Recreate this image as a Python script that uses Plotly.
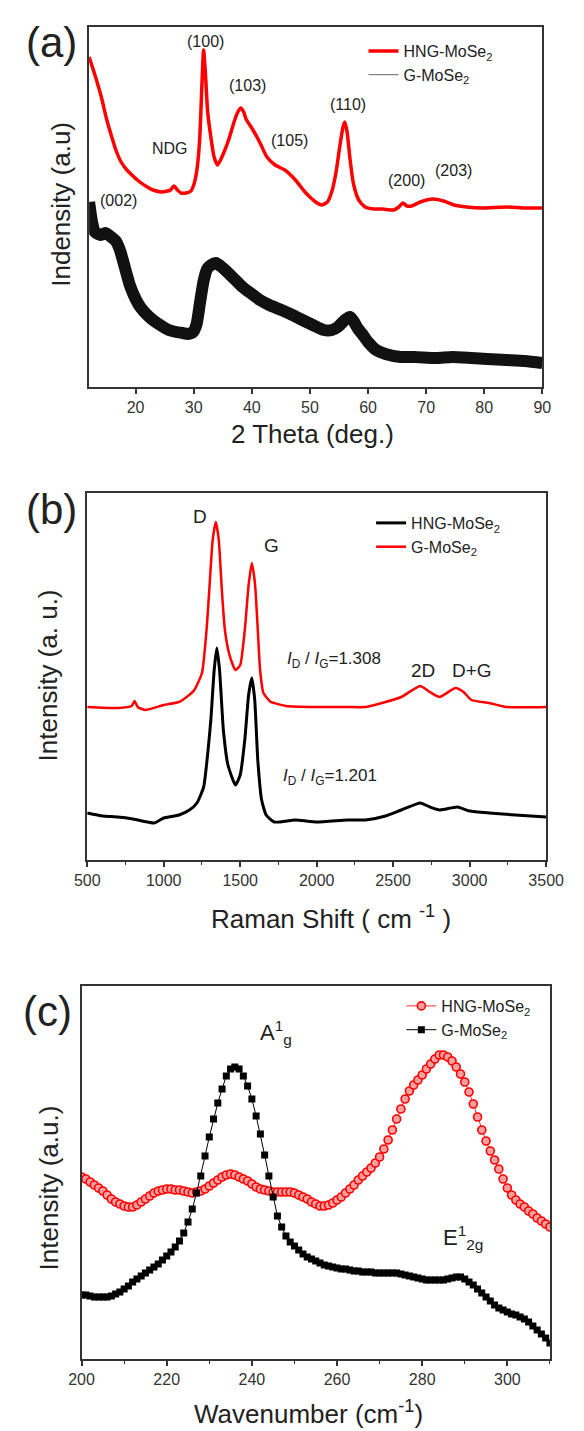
import plotly.graph_objects as go

# ---------------- Panel (a) XRD ----------------
xrd_hng_theta = [12, 13, 14.1, 15, 16, 16.6, 17.5, 18.5, 19.0, 20.5, 22, 23, 24.4, 25.5, 26.0, 26.6,
                 27.2, 27.8, 28.7, 29.5, 30.0, 30.5, 31.0, 31.4, 31.7, 32.0, 32.4, 32.9, 33.5, 34.1,
                 35.0, 36.0, 37.0, 37.6, 38.1, 38.6, 39.0, 40.2, 41.5, 42.6, 44.0, 45.7, 47.5, 49.0,
                 50.0, 51.0, 52.0, 53.0, 53.8, 54.5, 55.2, 55.7, 56.0, 56.4, 56.9, 57.5, 58.4, 59.5,
                 61.0, 62.5, 64.4, 65.3, 66.0, 66.7, 67.5, 69.0, 71.1, 73.0, 74.8, 77.0, 79.6, 83.8,
                 87.0, 90.0]
xrd_hng_int = [330, 312, 290, 268, 248, 237, 225, 217, 214, 206, 200, 197, 195, 196, 197, 201,
               197, 194, 194, 196, 202, 215, 245, 300, 337, 315, 275, 252, 230, 222,
               232, 247, 266, 275, 279, 275, 268, 257, 243, 230, 222, 217, 207, 196,
               190, 185, 182, 185, 196, 215, 243, 260, 265, 255, 228, 203, 187, 180,
               178, 178, 177, 180, 184, 181, 181, 185, 188, 186, 182, 180, 179, 180,
               179, 179]

xrd_g_theta = [12, 12.5, 13.0, 14.0, 14.8, 15.8, 16.6, 17.3, 17.8, 18.5, 19.0, 20.0, 20.8, 22.0,
               23.2, 24.5, 25.7, 27.0, 28.1, 29.0, 29.9, 30.5, 31.1, 31.7, 32.3, 33.0, 33.8, 34.6,
               35.4, 37.0, 38.4, 40.0, 41.4, 43.0, 45.1, 47.0, 48.7, 50.5, 52.4, 53.8, 54.8, 56.0,
               56.9, 57.6, 58.3, 59.0, 60.0, 61.4, 63.0, 65.6, 68.0, 71.7, 74.5, 77.8, 80.5, 83.8,
               87.0, 90.0]
xrd_g_int = [185, 165, 155, 152, 154, 150, 146, 137, 127, 112, 102, 88, 80, 72,
             66, 61, 57, 55, 54, 53, 55, 63, 85, 106, 118, 122, 124, 121,
             117, 108, 100, 93, 87, 82, 77, 72, 67, 62, 57, 57, 60, 67,
             70, 65, 58, 53, 45, 37, 33, 30, 30, 29, 30, 29, 28, 27,
             26, 24]

xrd_labels = ["(100)", "(103)", "(110)", "(105)", "NDG", "(200)", "(203)", "(002)"]
xrd_label_theta = [32.0, 39.2, 56.6, 46.5, 26.0, 66.7, 74.7, 17.0]
xrd_label_int = [345, 301, 282, 247, 239, 207, 217, 187]

# ---------------- Panel (b) Raman ----------------
raman_g_shift = [500, 700, 790, 810, 830, 880, 1000, 1100, 1150, 1200, 1250, 1280, 1300, 1320, 1341,
                 1360, 1380, 1400, 1430, 1469, 1500, 1530, 1555, 1576, 1590, 1600, 1615, 1630, 1652,
                 1700, 1722, 1800, 2000, 2200, 2320, 2450, 2553, 2677, 2740, 2804, 2907, 2960, 3012,
                 3128, 3240, 3500]
raman_g_int = [153, 152, 154, 159, 153, 150, 155, 158, 163, 170, 187, 230, 275, 320, 338,
               320, 270, 230, 205, 190, 195, 230, 275, 297, 285, 270, 230, 190, 167,
               158, 157, 154, 153, 153, 153, 158, 163, 174, 168, 163, 172, 168, 160,
               157, 153, 153]

raman_hng_shift = [500, 600, 700, 800, 939, 1000, 1100, 1168, 1217, 1261, 1290, 1308, 1330, 1347,
                   1365, 1390, 1420, 1469, 1500, 1530, 1555, 1576, 1595, 1615, 1640, 1670, 1722,
                   1860, 2000, 2200, 2320, 2450, 2553, 2677, 2740, 2804, 2920, 3000, 3128, 3300, 3500]
raman_hng_int = [47, 44, 43, 41, 37, 42, 45, 50, 57, 73, 110, 140, 190, 212,
                 190, 130, 95, 75, 85, 120, 165, 182, 160, 100, 60, 45, 38,
                 40, 38, 40, 40, 44, 50, 57, 53, 50, 53, 49, 47, 45, 43]

raman_labels = ["D", "G", "2D", "D+G"]
raman_label_shift = [1236, 1706, 2696, 3017]
raman_label_int = [343, 315, 190, 190]
ratio_labels = ["<i>I</i><sub>D</sub> / <i>I</i><sub>G</sub>=1.308",
                "<i>I</i><sub>D</sub> / <i>I</i><sub>G</sub>=1.201"]
ratio_shift = [1790, 1768]
ratio_int = [200, 83]

# ---------------- Panel (c) low-wavenumber Raman ----------------
wn = list(range(200, 311))
wn_hng = [182, 180, 177, 174, 171, 168, 164, 160, 157, 155, 153, 152, 152, 154, 157, 160,
          163, 166, 168, 169, 170, 170, 169, 169, 168, 167, 166, 167, 168, 170, 173, 176,
          179, 182, 184, 185, 184, 182, 180, 178, 175, 172, 170, 169, 168, 167, 167, 167,
          167, 167, 166, 164, 162, 160, 157, 155, 153, 153, 154, 156, 159, 162, 166, 170,
          174, 179, 183, 187, 191, 196, 202, 210, 219, 229, 240, 250, 260, 268, 274, 279,
          284, 290, 295, 300, 304, 304, 302, 298, 292, 285, 277, 267, 255, 242, 229, 218,
          208, 199, 190, 180, 171, 164, 159, 155, 152, 148, 145, 141, 138, 135, 132]
wn_g = [64, 64, 63, 62, 62, 62, 62, 63, 65, 67, 70, 73, 77, 80, 83, 86,
        89, 92, 95, 99, 103, 107, 112, 118, 126, 137, 150, 166, 183, 203, 222, 240,
        256, 270, 283, 290, 292, 290, 283, 273, 260, 243, 225, 204, 183, 162, 143, 132,
        123, 117, 113, 109, 105, 102, 100, 98, 96, 94, 93, 92, 91, 90, 90, 89,
        88, 88, 87, 87, 87, 86, 86, 86, 86, 86, 86, 85, 84, 83, 82, 81,
        80, 79, 79, 79, 79, 79, 80, 81, 82, 82, 80, 77, 74, 70, 66, 62,
        58, 54, 51, 49, 47, 45, 44, 42, 40, 37, 33, 29, 25, 21, 16]
mode_labels = ["A<sup>1</sup><sub>g</sub>", "E<sup>1</sup><sub>2g</sub>"]
mode_wn = [241.5, 284.5]
mode_int = [327, 122]

# ---------------- layout helpers ----------------
OFF = 8                      # default page margin of the html body
W, H = 584 - OFF, 1431 - OFF
FONT = "Arial, Liberation Sans, Helvetica, sans-serif"


def px(xp):
    return (xp - OFF) / W


def py(yp):
    return 1 - (yp - OFF) / H


fig = go.Figure()

# Panel a traces
fig.add_trace(go.Scatter(x=xrd_g_theta, y=xrd_g_int, mode="lines",
                         line=dict(color="#111111", width=12, shape="spline", smoothing=0.6),
                         showlegend=False, xaxis="x", yaxis="y"))
fig.add_trace(go.Scatter(x=xrd_hng_theta, y=xrd_hng_int, mode="lines", name="HNG-MoSe<sub>2</sub>",
                         line=dict(color="#ff0000", width=3.5, shape="spline", smoothing=0.6),
                         xaxis="x", yaxis="y", legend="legend"))
fig.add_trace(go.Scatter(x=[None], y=[None], mode="lines", name="G-MoSe<sub>2</sub>",
                         line=dict(color="#666666", width=1), xaxis="x", yaxis="y", legend="legend"))

# Panel b traces
fig.add_trace(go.Scatter(x=raman_hng_shift, y=raman_hng_int, mode="lines", name="HNG-MoSe<sub>2</sub>",
                         line=dict(color="black", width=3, shape="spline", smoothing=0.5),
                         xaxis="x2", yaxis="y2", legend="legend2"))
fig.add_trace(go.Scatter(x=raman_g_shift, y=raman_g_int, mode="lines", name="G-MoSe<sub>2</sub>",
                         line=dict(color="#ff0000", width=2.5, shape="spline", smoothing=0.5),
                         xaxis="x2", yaxis="y2", legend="legend2"))

# Panel c traces
fig.add_trace(go.Scatter(x=wn, y=wn_hng, mode="lines+markers", name="HNG-MoSe<sub>2</sub>",
                         line=dict(color="#ff3030", width=1),
                         marker=dict(symbol="circle", size=8, color="#ffa0a0", line=dict(color="#ff0000", width=1.6)),
                         xaxis="x3", yaxis="y3", legend="legend3"))
fig.add_trace(go.Scatter(x=wn, y=wn_g, mode="lines+markers", name="G-MoSe<sub>2</sub>",
                         line=dict(color="black", width=1),
                         marker=dict(symbol="square", size=7, color="black"),
                         xaxis="x3", yaxis="y3", legend="legend3"))

axis_common = dict(showline=True, linecolor="#333333", linewidth=1.5, mirror=True, showgrid=False,
                   zeroline=False, ticks="outside", ticklen=5, tickwidth=1.5, tickcolor="#333333",
                   tickfont=dict(family=FONT, size=16, color="#333333"))
yaxis_common = dict(showline=True, linecolor="#333333", linewidth=1.5, mirror=True, showgrid=False,
                    zeroline=False, ticks="", showticklabels=False)

annotations = []
for t, xv, yv in zip(xrd_labels, xrd_label_theta, xrd_label_int):
    annotations.append(dict(text=t, x=xv, y=yv, xref="x", yref="y", showarrow=False,
                            font=dict(family=FONT, size=16, color="#222222")))
for t, xv, yv in zip(raman_labels, raman_label_shift, raman_label_int):
    annotations.append(dict(text=t, x=xv, y=yv, xref="x2", yref="y2", showarrow=False,
                            font=dict(family=FONT, size=19, color="#222222")))
for t, xv, yv in zip(ratio_labels, ratio_shift, ratio_int):
    annotations.append(dict(text=t, x=xv, y=yv, xref="x2", yref="y2", showarrow=False, xanchor="left",
                            font=dict(family=FONT, size=17, color="#222222")))
for t, xv, yv in zip(mode_labels, mode_wn, mode_int):
    annotations.append(dict(text=t, x=xv, y=yv, xref="x3", yref="y3", showarrow=False, xanchor="left",
                            font=dict(family=FONT, size=22, color="#222222")))


def txt(t, xp, yp, size, angle=0):
    annotations.append(dict(text=t, x=px(xp), y=py(yp), xref="paper", yref="paper", showarrow=False,
                            textangle=angle, xanchor="center", yanchor="middle",
                            font=dict(family=FONT, size=size, color="#222222")))


txt("2 Theta (deg.)", 316, 434, 26)
txt("Indensity (a.u)", 50, 204, 26, -90)
txt("Raman Shift ( cm <sup>-1</sup> )", 336, 918, 26)
txt("Intensity (a. u.)", 37, 675, 26, -90)
txt("Wavenumber (cm<sup>-1</sup>)", 312, 1412, 26)
txt("Intensity (a.u.)", 38, 1188, 26, -90)
txt("(a)", 40, 42, 42)
txt("(b)", 40, 509, 42)
txt("(c)", 36, 1011, 42)

legend_common = dict(xanchor="left", yanchor="top", bgcolor="rgba(0,0,0,0)", borderwidth=0,
                     font=dict(family=FONT, size=16, color="#222222"), itemwidth=30, tracegroupgap=0)

fig.update_layout(
    width=W, height=H, margin=dict(l=0, r=0, t=0, b=0),
    paper_bgcolor="white", plot_bgcolor="white",
    xaxis=dict(domain=[px(80), px(559)], range=[12, 90], dtick=10, tick0=0, anchor="y", **axis_common),
    yaxis=dict(domain=[py(387), py(27)], range=[0, 360], anchor="x", **yaxis_common),
    xaxis2=dict(domain=[px(78), px(563)], range=[500, 3500], dtick=500, tick0=0, anchor="y2",
                minor=dict(dtick=250, ticks="outside", ticklen=3, tickwidth=1.2, tickcolor="#333333"),
                **axis_common),
    yaxis2=dict(domain=[py(860), py(493)], range=[0, 367], anchor="x2", **yaxis_common),
    xaxis3=dict(domain=[px(72), px(567)], range=[200, 310], dtick=20, tick0=0, anchor="y3",
                minor=dict(dtick=10, ticks="outside", ticklen=3, tickwidth=1.2, tickcolor="#333333"),
                **axis_common),
    yaxis3=dict(domain=[py(1359), py(986)], range=[0, 373], anchor="x3", **yaxis_common),
    legend=dict(x=px(370), y=py(34), **legend_common),
    legend2=dict(x=px(378), y=py(506), **legend_common),
    legend3=dict(x=px(410), y=py(989), **legend_common),
    annotations=annotations,
)

fig.write_html("out.html")
